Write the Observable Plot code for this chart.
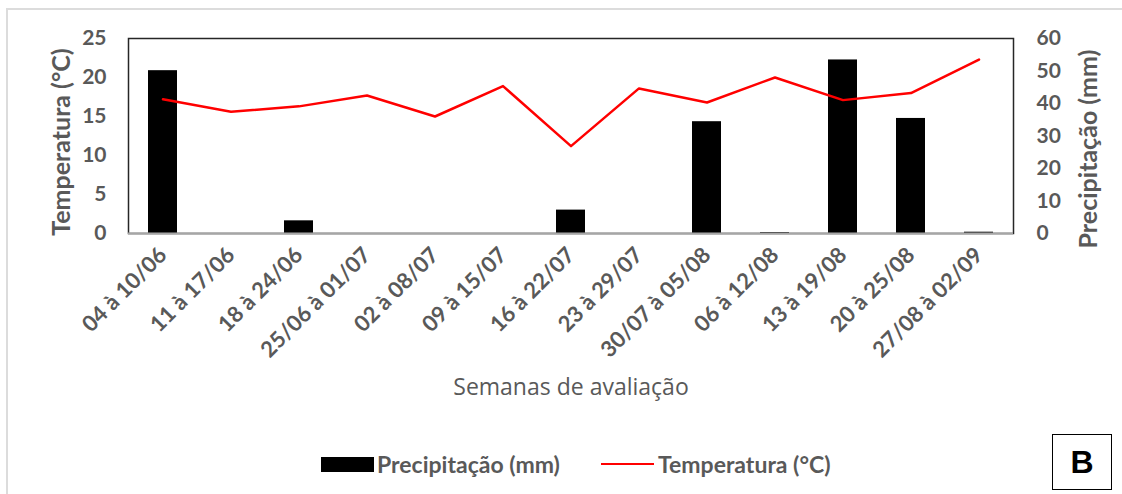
<!DOCTYPE html>
<html><head><meta charset="utf-8">
<script src="https://cdn.jsdelivr.net/npm/d3@7"></script>
<script src="https://cdn.jsdelivr.net/npm/@observablehq/plot@0.6"></script>
<style>
body{margin:0;background:#fff;}
#wrap{position:relative;width:1122px;height:494px;overflow:hidden;font-family:Lato,sans-serif;background:#fff;}
#border{position:absolute;left:6px;top:8px;width:2000px;height:2000px;border-left:2px solid #dcdcdc;border-top:2px solid #dcdcdc;}
#chart{position:absolute;left:0;top:0;}
.lg{position:absolute;font-family:Lato,sans-serif;font-weight:bold;color:#595959;font-size:23px;line-height:1;white-space:nowrap;}
.vt{position:absolute;width:0;height:0;}
.vt span{position:absolute;left:0;top:0;white-space:nowrap;font-family:Lato,sans-serif;font-weight:bold;color:#595959;font-size:25px;line-height:1;transform:translate(-50%,-50%) rotate(-90deg);}
#bbox{position:absolute;left:1052px;top:434px;width:58px;height:54px;border:1.5px solid #000;font-family:"Liberation Sans",Arial,sans-serif;font-weight:bold;font-size:32px;display:flex;align-items:center;justify-content:center;color:#000;}
</style></head><body><div id="wrap"><div id="border"></div><div id="chart"></div>
<div class="vt" style="left:60px;top:142px;"><span>Temperatura (°C)</span></div>
<div class="vt" style="left:1087px;top:149px;"><span>Precipitação (mm)</span></div>
<div style="position:absolute;left:321px;top:457px;width:53px;height:15px;background:#000;"></div>
<div class="lg" style="left:377px;top:453px;">Precipitação (mm)</div>
<div style="position:absolute;left:601px;top:463px;width:53px;height:2px;background:#ff0000;"></div>
<div class="lg" style="left:658px;top:453px;">Temperatura (°C)</div>
<div id="bbox">B</div>
</div>
<script>
const weeks = ["04 à 10/06","11 à 17/06","18 à 24/06","25/06 à 01/07","02 à 08/07","09 à 15/07","16 à 22/07","23 à 29/07","30/07 à 05/08","06 à 12/08","13 à 19/08","20 à 25/08","27/08 à 02/09"];
const precip = [50.1, 0, 3.9, 0, 0, 0, 7.2, 0, 34.4, 0.3, 53.4, 35.4, 0.4];
const temp = [17.2, 15.6, 16.3, 17.7, 15.0, 18.9, 11.2, 18.6, 16.8, 20.0, 17.1, 18.0, 22.3];
const tempTicks = [0, 5, 10, 15, 20, 25];
const precipTicks = [0, 10, 20, 30, 40, 50, 60];

const k = 25 / 60;
const rows = weeks.map((w, i) => ({week: w, precip: precip[i], temp: temp[i], precipScaled: precip[i] * k}));

const chart = Plot.plot({
  width: 1122, height: 494,
  marginLeft: 128, marginRight: 109, marginTop: 38, marginBottom: 261,
  style: {fontFamily: "Lato", fontWeight: "bold", fontSize: "21px", color: "#595959", background: "transparent"},
  x: {domain: weeks, paddingInner: 0.574, paddingOuter: 0.287, label: null},
  y: {domain: [0, 25], label: null},
  marks: [
    Plot.barY(rows.filter(d => d.precip > 0), {x: "week", y: "precipScaled", fill: "#000"}),
    Plot.frame({stroke: "#262626", strokeWidth: 1.5}),
    Plot.ruleY([0], {stroke: "#a6a6a6", strokeWidth: 2}),
    Plot.line(rows, {x: "week", y: "temp", stroke: "#ff0000", strokeWidth: 2.5}),
    Plot.axisY(tempTicks, {anchor: "left", tickSize: 0, tickPadding: 22, label: null}),
    Plot.axisY(precipTicks.map(v => v * k), {anchor: "right", tickSize: 0, tickPadding: 23, tickFormat: d => Math.round(d / k), label: null}),
    Plot.axisX({tickRotate: -45, tickSize: 0, tickPadding: 18, fontSize: 22, label: null}),
    Plot.text(["Semanas de avaliação"], {frameAnchor: "bottom", dy: 161, fontFamily: "Open Sans", fontWeight: "normal", fontSize: 23, fill: "#595959"})
  ]
});
document.getElementById("chart").appendChild(chart);
</script>
</body></html>
